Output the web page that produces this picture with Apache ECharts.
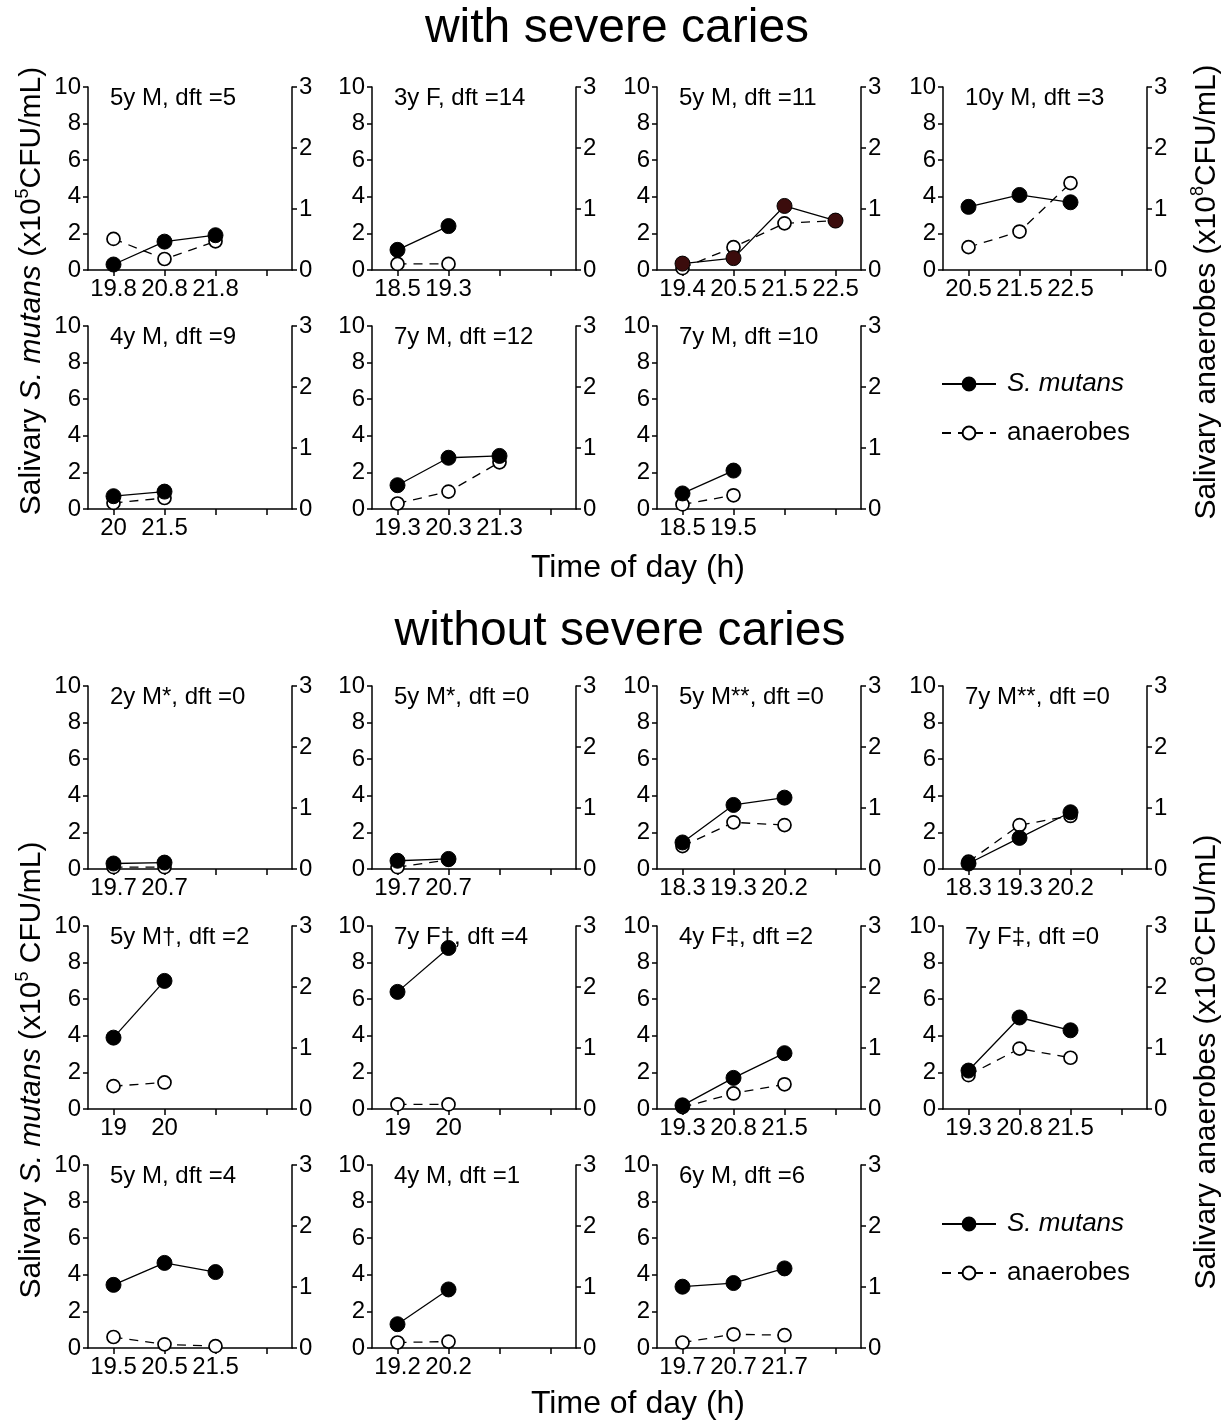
<!DOCTYPE html>
<html><head><meta charset="utf-8">
<script src="https://cdn.jsdelivr.net/npm/echarts@6/dist/echarts.min.js"></script>
<style>html,body{margin:0;padding:0;background:#fff}#c{width:1230px;height:1421px}</style>
</head><body><div id="c"></div>
<script>
// ---------------- DATA ----------------
const sectionTitles = ['with severe caries', 'without severe caries'];
const xAxisTitle = 'Time of day (h)';
const seriesNames = ['S. mutans', 'anaerobes'];

const panelLabels = [
  '5y M, dft =5', '3y F, dft =14', '5y M, dft =11', '10y M, dft =3',
  '4y M, dft =9', '7y M, dft =12', '7y M, dft =10',
  '2y M*, dft =0', '5y M*, dft =0', '5y M**, dft =0', '7y M**, dft =0',
  '5y M\u2020, dft =2', '7y F\u2020, dft =4', '4y F\u2021, dft =2', '7y F\u2021, dft =0',
  '5y M, dft =4', '4y M, dft =1', '6y M, dft =6'
];

// sampling times (tick labels of each panel)
const panelTimes = [
  ['19.8', '20.8', '21.8'], ['18.5', '19.3'], ['19.4', '20.5', '21.5', '22.5'], ['20.5', '21.5', '22.5'],
  ['20', '21.5'], ['19.3', '20.3', '21.3'], ['18.5', '19.5'],
  ['19.7', '20.7'], ['19.7', '20.7'], ['18.3', '19.3', '20.2'], ['18.3', '19.3', '20.2'],
  ['19', '20'], ['19', '20'], ['19.3', '20.8', '21.5'], ['19.3', '20.8', '21.5'],
  ['19.5', '20.5', '21.5'], ['19.2', '20.2'], ['19.7', '20.7', '21.7']
];

// Salivary S. mutans (x10^5 CFU/mL), left axis
const mutansValues = [
  [0.3, 1.55, 1.9], [1.1, 2.4], [0.35, 0.65, 3.5, 2.7], [3.45, 4.1, 3.7],
  [0.7, 0.95], [1.3, 2.8, 2.9], [0.85, 2.1],
  [0.3, 0.35], [0.45, 0.55], [1.45, 3.5, 3.9], [0.3, 1.7, 3.1],
  [3.9, 7.0], [6.4, 8.8], [0.2, 1.7, 3.05], [2.1, 5.0, 4.3],
  [3.45, 4.65, 4.15], [1.3, 3.2], [3.35, 3.55, 4.35]
];

// Salivary anaerobes (x10^8 CFU/mL), right axis
const anaerobesValues = [
  [0.51, 0.18, 0.47], [0.1, 0.1], [0.03, 0.375, 0.765, 0.81], [0.375, 0.63, 1.425],
  [0.1, 0.18], [0.09, 0.285, 0.765], [0.075, 0.225],
  [0.03, 0.03], [0.03, 0.15], [0.375, 0.765, 0.72], [0.12, 0.72, 0.87],
  [0.375, 0.435], [0.075, 0.075], [0.03, 0.255, 0.405], [0.555, 0.99, 0.84],
  [0.18, 0.06, 0.03], [0.09, 0.105], [0.09, 0.225, 0.21]
];

const leftAxisRange = { min: 0, max: 10, interval: 2 };
const rightAxisRange = { min: 0, max: 3, interval: 1 };

// ---------------- LAYOUT / STYLE ----------------
const FONT = '"Liberation Sans", Arial, sans-serif';
const colLeft = [88, 372, 657, 943];
const rowTop = [87, 326, 686, 926, 1165];
const slots = [[0,0],[0,1],[0,2],[0,3],[1,0],[1,1],[1,2],
  [2,0],[2,1],[2,2],[2,3],[3,0],[3,1],[3,2],[3,3],[4,0],[4,1],[4,2]];
const PW = 204, PH = 183, NCAT = 4;
const TICK_FS = 24;
const darkMarkerPanel = 2;

const grids = [], xAxes = [], yAxes = [], series = [], titles = [];
const axisLineStyle = { color: '#000', width: 1.5 };

panelLabels.forEach((label, i) => {
  const [r, c] = slots[i];
  grids.push({ left: colLeft[c], top: rowTop[r], width: PW, height: PH, containLabel: false });
  const cats = panelTimes[i].slice();
  while (cats.length < NCAT) cats.push(' '.repeat(cats.length));
  xAxes.push({
    type: 'category', gridIndex: i, data: cats, boundaryGap: true,
    axisLine: { lineStyle: axisLineStyle },
    axisTick: { show: true, alignWithLabel: true, length: 6, lineStyle: axisLineStyle },
    axisLabel: { interval: 0, margin: 7, color: '#000', fontSize: TICK_FS, fontFamily: FONT },
    splitLine: { show: false }
  });
  yAxes.push({
    type: 'value', gridIndex: i, position: 'left', ...leftAxisRange,
    axisLine: { show: true, lineStyle: axisLineStyle },
    axisTick: { show: true, length: 5, lineStyle: axisLineStyle },
    axisLabel: { margin: 7, color: '#000', fontSize: TICK_FS, fontFamily: FONT },
    splitLine: { show: false }
  });
  yAxes.push({
    type: 'value', gridIndex: i, position: 'right', ...rightAxisRange,
    axisLine: { show: true, lineStyle: axisLineStyle },
    axisTick: { show: true, length: 5, lineStyle: axisLineStyle },
    axisLabel: { margin: 7, color: '#000', fontSize: TICK_FS, fontFamily: FONT },
    splitLine: { show: false }
  });
  series.push({
    type: 'line', name: seriesNames[1], xAxisIndex: i, yAxisIndex: 2 * i + 1,
    data: anaerobesValues[i], symbol: 'circle', symbolSize: 13, showSymbol: true,
    itemStyle: { color: '#fff', borderColor: '#000', borderWidth: 1.7 },
    lineStyle: { color: '#000', width: 1.3, type: [9, 7] },
    z: 2, animation: false, silent: true
  });
  series.push({
    type: 'line', name: seriesNames[0], xAxisIndex: i, yAxisIndex: 2 * i,
    data: mutansValues[i], symbol: 'circle', symbolSize: 15, showSymbol: true,
    itemStyle: { color: i === darkMarkerPanel ? '#3b0c0c' : '#000', borderColor: '#000', borderWidth: 1 },
    lineStyle: { color: '#000', width: 1.3 },
    z: 3, animation: false, silent: true
  });
  titles.push({
    text: label, left: colLeft[c] + 17, top: rowTop[r] - 6,
    textStyle: { fontSize: 24, fontWeight: 'normal', color: '#000', fontFamily: FONT }
  });
});

const legendBase = {
  data: seriesNames, orient: 'vertical', itemWidth: 54, itemHeight: 16, itemGap: 23,
  selectedMode: false,
  formatter: n => n === seriesNames[0] ? '{i|' + n + '}' : n,
  textStyle: { fontSize: 26, color: '#000', fontFamily: FONT, padding: [0, 0, 0, 6],
    rich: { i: { fontStyle: 'italic', fontSize: 26, fontFamily: FONT, color: '#000' } } }
};
const legends = [
  Object.assign({}, legendBase, { left: 936, top: 366 }),
  Object.assign({}, legendBase, { left: 936, top: 1206 })
];

const richMain = { fontSize: 30, fontFamily: FONT, color: '#000', lineHeight: 36 };
const richY = {
  n: richMain,
  i: Object.assign({}, richMain, { fontStyle: 'italic' }),
  s: { fontSize: 18, fontFamily: FONT, color: '#000', verticalAlign: 'top', lineHeight: 36, padding: [0, 0, 10, 0] }
};
function yTitle(x, y, text) {
  return { type: 'text', x: x, y: y, rotation: Math.PI / 2,
    style: { text: text, rich: richY, align: 'center', verticalAlign: 'middle' } };
}
const graphics = [
  { type: 'text', x: 617, y: 29, style: { text: sectionTitles[0], font: '48px ' + FONT, fill: '#000', align: 'center', verticalAlign: 'middle' } },
  { type: 'text', x: 620, y: 632, style: { text: sectionTitles[1], font: '48px ' + FONT, fill: '#000', align: 'center', verticalAlign: 'middle' } },
  { type: 'text', x: 638, y: 568, style: { text: xAxisTitle, font: '32px ' + FONT, fill: '#000', align: 'center', verticalAlign: 'middle' } },
  { type: 'text', x: 638, y: 1404, style: { text: xAxisTitle, font: '32px ' + FONT, fill: '#000', align: 'center', verticalAlign: 'middle' } },
  yTitle(32, 291, '{n|Salivary }{i|S. mutans}{n| (x10}{s|5}{n|CFU/mL)}'),
  yTitle(32, 1070, '{n|Salivary }{i|S. mutans}{n| (x10}{s|5}{n| CFU/mL)}'),
  yTitle(1207, 292, '{n|Salivary anaerobes (x10}{s|8}{n|CFU/mL)}'),
  yTitle(1207, 1062, '{n|Salivary anaerobes (x10}{s|8}{n|CFU/mL)}')
];

const chart = echarts.init(document.getElementById('c'), null, { renderer: 'canvas' });
chart.setOption({
  animation: false,
  backgroundColor: '#fff',
  title: titles,
  legend: legends,
  grid: grids,
  xAxis: xAxes,
  yAxis: yAxes,
  series: series,
  graphic: graphics
});
</script></body></html>
